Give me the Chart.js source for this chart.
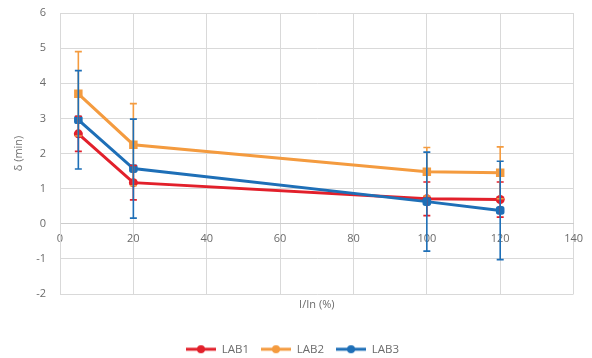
<!DOCTYPE html>
<html>
<head>
<meta charset="utf-8">
<script src="https://cdn.jsdelivr.net/npm/chart.js@4/dist/chart.umd.min.js"></script>
<style>
  html, body { margin: 0; padding: 0; background: #fff; }
  #wrap { width: 592px; height: 358px; }
</style>
</head>
<body>
<div id="wrap"><canvas id="chart"></canvas></div>
<script>
const seriesNames = ['LAB1', 'LAB2', 'LAB3'];
const xValues = [5, 20, 100, 120];
const lab1 = [2.56, 1.17, 0.71, 0.69];
const lab2 = [3.70, 2.25, 1.48, 1.45];
const lab3 = [2.96, 1.57, 0.63, 0.38];
const lab1Err = [0.50, 0.49, 0.48, 0.50];
const lab2Err = [1.20, 1.17, 0.69, 0.74];
const lab3Err = [1.40, 1.41, 1.41, 1.40];
const colors = ['#E2202B', '#F49B3F', '#1E6FB7'];

const font = "'Open Sans', sans-serif";
const textColor = '#6b6b6b';
const gridColor = '#d9d9d9';

function points(values) {
    return values.map((v, i) => ({ x: xValues[i], y: v }));
}

// legend marker: short line with a dot, like Excel
function legendMarker(color) {
    const c = document.createElement('canvas');
    c.width = 30;
    c.height = 10;
    const g = c.getContext('2d');
    g.strokeStyle = color;
    g.lineWidth = 3;
    g.beginPath();
    g.moveTo(0, 5);
    g.lineTo(30, 5);
    g.stroke();
    g.fillStyle = color;
    g.beginPath();
    g.arc(15, 5, 4, 0, Math.PI * 2);
    g.fill();
    return c;
}

const errorBars = {
    id: 'errorBars',
    afterDatasetsDraw(chart) {
        const { ctx, scales: { x, y } } = chart;
        ctx.save();
        chart.data.datasets.forEach(ds => {
            ctx.strokeStyle = ds.borderColor;
            ctx.lineWidth = 1.6;
            ds.data.forEach((pt, j) => {
                const e = ds.errors[j];
                const px = x.getPixelForValue(pt.x);
                const top = y.getPixelForValue(pt.y + e);
                const bot = y.getPixelForValue(pt.y - e);
                ctx.beginPath();
                ctx.moveTo(px, top);
                ctx.lineTo(px, bot);
                ctx.moveTo(px - 3.5, top);
                ctx.lineTo(px + 3.5, top);
                ctx.moveTo(px - 3.5, bot);
                ctx.lineTo(px + 3.5, bot);
                ctx.stroke();
            });
        });
        ctx.restore();
    }
};

const allValues = [lab1, lab2, lab3];
const allErrors = [lab1Err, lab2Err, lab3Err];
const styles = ['circle', 'rect', 'rectRounded'];
const radii = [4.5, 6, 5];

const datasets = seriesNames.map((name, i) => ({
    label: name,
    data: points(allValues[i]),
    errors: allErrors[i],
    borderColor: colors[i],
    backgroundColor: colors[i],
    borderWidth: 3,
    pointStyle: styles[i],
    pointRadius: radii[i],
    pointBorderWidth: 0,
    tension: 0,
    order: 3 - i
}));

new Chart(document.getElementById('chart'), {
    type: 'line',
    data: { datasets: datasets },
    options: {
        responsive: true,
        maintainAspectRatio: false,
        animation: false,
        layout: { padding: { left: 10, right: 17, top: 13, bottom: -7 } },
        plugins: {
            tooltip: { enabled: false },
            legend: {
                position: 'bottom',
                labels: {
                    usePointStyle: true,
                    pointStyleWidth: 30,
                    boxHeight: 10,
                    padding: 12,
                    color: textColor,
                    font: { family: font, size: 11.5 },
                    generateLabels(chart) {
                        return chart.data.datasets.map((ds, i) => ({
                            text: ds.label,
                            pointStyle: legendMarker(ds.borderColor),
                            fillStyle: ds.borderColor,
                            strokeStyle: ds.borderColor,
                            lineWidth: 0,
                            fontColor: textColor,
                            datasetIndex: i
                        }));
                    }
                }
            }
        },
        scales: {
            x: {
                type: 'linear',
                position: { y: 0 },
                min: 0,
                max: 140,
                ticks: { stepSize: 20, padding: 9, color: textColor, font: { family: font, size: 11 } },
                grid: { color: gridColor, drawTicks: false },
                border: { color: '#cccccc' }
            },
            x2: {
                type: 'linear',
                position: 'bottom',
                ticks: { display: false },
                grid: { display: false, drawTicks: false },
                border: { display: false },
                title: {
                    display: true,
                    text: 'I/In (%)',
                    color: textColor,
                    font: { family: font, size: 11 },
                    padding: { top: 4, bottom: 20.3 }
                }
            },
            y: {
                min: -2,
                max: 6,
                ticks: { stepSize: 1, padding: 14, color: textColor, font: { family: font, size: 11 } },
                grid: { color: gridColor, drawTicks: false },
                border: { color: gridColor },
                title: {
                    display: true,
                    text: 'δ (min)',
                    color: textColor,
                    font: { family: font, size: 11 },
                    padding: { top: 2, bottom: 0 }
                },
                afterFit(scale) {
                    scale.width = 50;
                    // tick padding should not push the plot down
                    scale.paddingTop = 7;
                    scale.paddingBottom = 0;
                }
            }
        }
    },
    plugins: [errorBars]
});
</script>
</body>
</html>
